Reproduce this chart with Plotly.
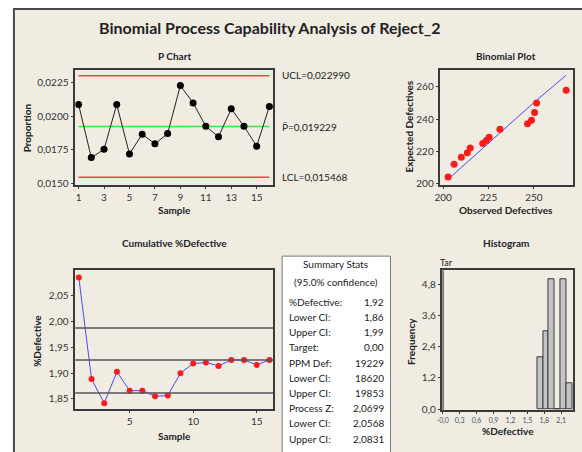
import plotly.graph_objects as go

W, H = 582, 452
FONT = "Lato"

# ---------------- data ----------------
samples = list(range(1, 17))
proportion = [0.02086, 0.01693, 0.01754, 0.02086, 0.01720, 0.01866, 0.01795, 0.01871,
              0.02226, 0.02098, 0.01925, 0.01847, 0.02054, 0.01925, 0.01778, 0.02072]
ucl = 0.022990
pbar = 0.019229
lcl = 0.015468

observed = [202.7, 206.0, 210.0, 213.3, 214.9, 221.8, 223.8, 225.3, 231.3,
            246.5, 248.7, 250.4, 251.5, 267.8]
expected = [204.1, 212.0, 216.3, 219.2, 222.0, 224.9, 226.7, 228.8, 233.7,
            237.1, 239.2, 244.1, 250.0, 257.8]
ref_obs = [204.0, 248.2, 267.8]
ref_exp = [204.0, 248.4, 267.1]

cum_defective = [2.0859, 1.8885, 1.8417, 1.9026, 1.8660, 1.8660, 1.8551, 1.8564,
                 1.9000, 1.9186, 1.9205, 1.9141, 1.9256, 1.9256, 1.9160, 1.9256]
ci_lines = [1.8615, 1.9256, 1.9877]

bin_edges = [1.675, 1.778, 1.881, 1.984, 2.087, 2.190, 2.293]
bin_counts = [2, 3, 5, 0, 5, 1]
target = 0.0

stats_labels = ["%Defective:", "Lower CI:", "Upper CI:", "Target:", "PPM Def:",
                "Lower CI:", "Upper CI:", "Process Z:", "Lower CI:", "Upper CI:"]
stats_values = ["1,92", "1,86", "1,99", "0,00", "19229", "18620", "19853",
                "2,0699", "2,0568", "2,0831"]

p_ticks = [0.0150, 0.0175, 0.0200, 0.0225]
p_ticktext = ["0,0150", "0,0175", "0,0200", "0,0225"]
s_ticks = [1, 3, 5, 7, 9, 11, 13, 15]
b_xticks = [200, 225, 250]
b_yticks = [200, 220, 240, 260]
c_yticks = [1.85, 1.90, 1.95, 2.00, 2.05]
c_yticktext = ["1,85", "1,90", "1,95", "2,00", "2,05"]
c_xticks = [5, 10, 15]
h_xticks = [0.0, 0.3, 0.6, 0.9, 1.2, 1.5, 1.8, 2.1]
h_xticktext = ["-0,0", "0,3", "0,6", "0,9", "1,2", "1,5", "1,8", "2,1"]
h_yticks = [0.0, 1.2, 2.4, 3.6, 4.8]
h_yticktext = ["0,0", "1,2", "2,4", "3,6", "4,8"]


def px(x):
    return x / W


def py(y):
    return 1 - y / H


fig = go.Figure()

# P chart
fig.add_trace(go.Scatter(x=[1, 16], y=[ucl, ucl], mode="lines", line=dict(color="#FF3B3B", width=1.5),
                         xaxis="x", yaxis="y", hoverinfo="skip"))
fig.add_trace(go.Scatter(x=[1, 16], y=[lcl, lcl], mode="lines", line=dict(color="#FF3B3B", width=1.5),
                         xaxis="x", yaxis="y", hoverinfo="skip"))
fig.add_trace(go.Scatter(x=[1, 16], y=[pbar, pbar], mode="lines", line=dict(color="#3CE83C", width=1.5),
                         xaxis="x", yaxis="y", hoverinfo="skip"))
fig.add_trace(go.Scatter(x=samples, y=proportion, mode="lines+markers",
                         line=dict(color="#222222", width=1),
                         marker=dict(color="#000000", size=7), xaxis="x", yaxis="y"))

# Binomial plot
fig.add_trace(go.Scatter(x=ref_obs, y=ref_exp, mode="lines", line=dict(color="#4A4AFF", width=1),
                         xaxis="x2", yaxis="y2"))
fig.add_trace(go.Scatter(x=observed, y=expected, mode="markers",
                         marker=dict(color="#FF1A1A", size=7), xaxis="x2", yaxis="y2"))

# Cumulative
fig.add_trace(go.Scatter(x=samples, y=cum_defective, mode="lines+markers",
                         line=dict(color="#4A4AFF", width=1),
                         marker=dict(color="#FF1A1A", size=6), xaxis="x3", yaxis="y3"))

# Histogram
centers = [(bin_edges[i] + bin_edges[i + 1]) / 2 for i in range(len(bin_counts))]
widths = [bin_edges[i + 1] - bin_edges[i] for i in range(len(bin_counts))]
fig.add_trace(go.Bar(x=centers, y=bin_counts, width=widths,
                     marker=dict(color="#C4C4C4", line=dict(color="#3A3A3A", width=1)),
                     xaxis="x4", yaxis="y4"))

axcommon = dict(showgrid=False, zeroline=False, showline=True, mirror=True,
                linecolor="#3A3A3A", linewidth=1.5, ticks="outside", ticklen=3,
                tickcolor="#3A3A3A", tickfont=dict(family=FONT, size=10, color="#333333"))

fig.update_layout(
    width=W, height=H, margin=dict(l=0, r=0, t=0, b=0),
    paper_bgcolor="white", plot_bgcolor="white", showlegend=False,
    font=dict(family=FONT, color="#222222"),
    xaxis=dict(axcommon, domain=[px(70), px(270)], range=[0.74, 16.3], tickvals=s_ticks, anchor="y"),
    yaxis=dict(axcommon, domain=[py(186.7), py(70.7)], range=[0.01493, 0.02342],
               tickvals=p_ticks, ticktext=p_ticktext, anchor="x"),
    xaxis2=dict(axcommon, domain=[px(439), px(573.3)], range=[198.5, 271.8], tickvals=b_xticks, anchor="y2"),
    yaxis2=dict(axcommon, domain=[py(186.7), py(70.7)], range=[199.4, 270.4], tickvals=b_yticks, anchor="x2"),
    xaxis3=dict(axcommon, domain=[px(70), px(270)], range=[0.72, 16.3], tickvals=c_xticks, anchor="y3"),
    yaxis3=dict(axcommon, domain=[py(413.3), py(273.3)], range=[1.8308, 2.10],
                tickvals=c_yticks, ticktext=c_yticktext, anchor="x3"),
    xaxis4=dict(axcommon, domain=[px(441), px(573.3)], range=[-0.005, 2.316],
                tickvals=h_xticks, ticktext=h_xticktext, anchor="y4",
                tickfont=dict(family=FONT, size=7, color="#445566")),
    yaxis4=dict(axcommon, domain=[py(414.3), py(273.3)], range=[-0.02, 5.33],
                tickvals=h_yticks, ticktext=h_yticktext, anchor="x4"),
    bargap=0,
)

shapes = [
    # beige panel
    dict(type="rect", xref="paper", yref="paper", x0=px(8), x1=px(600), y0=py(470), y1=py(9),
         fillcolor="#F0ECE2", line=dict(color="#4A4A4A", width=2), layer="below"),
    # summary box
    dict(type="rect", xref="paper", yref="paper", x0=px(279), x1=px(388.5), y0=py(470), y1=py(259),
         fillcolor="white", line=dict(color="#7A7A7A", width=1), layer="below"),
    # target line on histogram
    dict(type="line", xref="x4", yref="y4 domain", x0=target, x1=target, y0=0, y1=1,
         line=dict(color="#4A4A4A", width=2)),
]
for v in ci_lines:
    shapes.append(dict(type="line", xref="x3 domain", yref="y3", x0=0, x1=1, y0=v, y1=v,
                       line=dict(color="#555555", width=1.5)))
fig.update_layout(shapes=shapes)

ann = []


def text(x, y, s, size=10, bold=False, angle=0, xanchor="center", color="#222222"):
    ann.append(dict(xref="paper", yref="paper", x=px(x), y=py(y), text=("<b>%s</b>" % s) if bold else s,
                    showarrow=False, xanchor=xanchor, yanchor="middle", textangle=angle,
                    font=dict(family=FONT, size=size, color=color)))


text(266, 28, "Binomial Process Capability Analysis of Reject_2", size=16, bold=True)
text(170, 57, "P Chart", size=10, bold=True)
text(505, 57, "Binomial Plot", size=10, bold=True)
text(170, 246, "Cumulative %Defective", size=10, bold=True)
text(505, 246, "Histogram", size=10, bold=True)

text(170, 212, "Sample", size=10, bold=True)
text(21, 129, "Proportion", size=10, bold=True, angle=-90)
text(505, 212, "Observed Defectives", size=10, bold=True)
text(407, 128, "Expected Defectives", size=10, bold=True, angle=-90)
text(170, 441, "Sample", size=10, bold=True)
text(32, 345, "%Defective", size=10, bold=True, angle=-90)
text(507, 436, "%Defective", size=10, bold=True)
text(409, 345, "Frequency", size=10, bold=True, angle=-90)
text(436, 265, "Tar", size=9, xanchor="left")

text(277, 76, "UCL=0,022990", size=10, xanchor="left")
text(277, 128, "P\u0304=0,019229", size=10, xanchor="left")
text(277, 179, "LCL=0,015468", size=10, xanchor="left")

text(333, 267, "Summary Stats", size=10)
text(333, 285, "(95.0% confidence)", size=10)
for i, (lab, val) in enumerate(zip(stats_labels, stats_values)):
    yy = 305 + i * 15.4
    text(284, yy, lab, size=10, xanchor="left")
    text(384, yy, val, size=10, xanchor="right")

fig.update_layout(annotations=ann)
fig.write_html("out.html", config={"displayModeBar": False},
               post_script="document.body.style.margin='0';document.body.style.overflow='hidden';")
